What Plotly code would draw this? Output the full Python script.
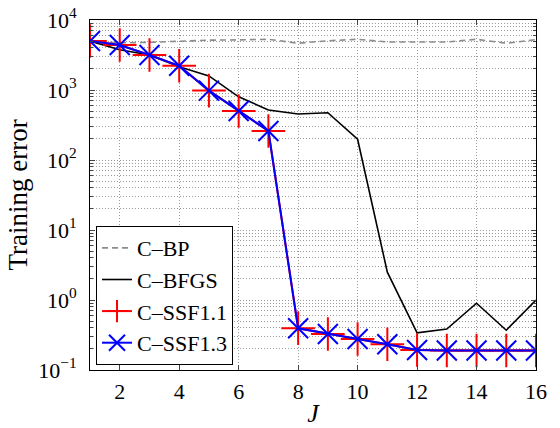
import plotly.graph_objects as go

J = list(range(1, 17))
c_bp = [5000, 4700, 4800, 5000, 5150, 5200, 5300, 4650, 5050, 5300, 4850, 4850, 4850, 5300, 4650, 5250]
c_bfgs = [5000, 3750, 3160, 2150, 1590, 800, 518, 454, 474, 198, 2.5, 0.34, 0.385, 0.9, 0.37, 1.0]
c_ssf11 = [5000, 4400, 3160, 2220, 980, 500, 260, 0.394, 0.327, 0.277, 0.233, 0.193, 0.19, 0.19, 0.19, 0.19]
c_ssf13 = [5000, 4400, 3160, 2220, 980, 500, 260, 0.394, 0.327, 0.277, 0.233, 0.193, 0.19, 0.19, 0.19, 0.19]

x_ticks = [2, 4, 6, 8, 10, 12, 14, 16]
y_ticks = [0.1, 1, 10, 100, 1000, 10000]
y_ticktext = ["10<sup>−1</sup>", "10<sup>0</sup>", "10<sup>1</sup>", "10<sup>2</sup>", "10<sup>3</sup>", "10<sup>4</sup>"]

FONT = "Liberation Serif"
GRID = "#9a9a9a"
GDASH = "1px,2px"

fig = go.Figure()
fig.add_trace(go.Scatter(x=J, y=c_bp, name="C\u2013BP", mode="lines",
                         line=dict(color="#8c8c8c", width=1.6, dash="6px,4px")))
fig.add_trace(go.Scatter(x=J, y=c_bfgs, name="C\u2013BFGS", mode="lines",
                         line=dict(color="black", width=1.6)))
fig.add_trace(go.Scatter(x=J, y=c_ssf11, name="C\u2013SSF1.1", mode="lines+markers",
                         line=dict(color="red", width=2),
                         marker=dict(symbol="cross-thin-open", size=24,
                                     line=dict(color="red", width=2))))
fig.add_trace(go.Scatter(x=J, y=c_ssf13, name="C\u2013SSF1.3", mode="lines+markers",
                         line=dict(color="blue", width=2),
                         marker=dict(symbol="x-thin-open", size=20,
                                     line=dict(color="blue", width=2))))

fig.update_layout(
    width=560, height=428,
    margin=dict(l=90, r=24, t=20, b=58),
    paper_bgcolor="white", plot_bgcolor="white",
    font=dict(family=FONT, size=22, color="black"),
    showlegend=True,
    legend=dict(x=0.0135, y=0.014, xanchor="left", yanchor="bottom",
                bgcolor="white", bordercolor="black", borderwidth=1,
                font=dict(family=FONT, size=22), tracegroupgap=0,
                itemwidth=30),
)
fig.update_xaxes(
    range=[1, 16], tickvals=x_ticks, ticks="inside", ticklen=5,
    showline=True, linecolor="black", linewidth=1, mirror="ticks",
    showgrid=True, gridcolor=GRID, griddash=GDASH, gridwidth=1,
    zeroline=False, tickfont=dict(family=FONT, size=22),
    ticklabelstandoff=2, automargin=False,
    title=dict(text="<i>J</i>", font=dict(family=FONT, size=26), standoff=2),
)
fig.update_yaxes(
    type="log", range=[-1, 4], tickvals=y_ticks, ticktext=y_ticktext,
    ticks="inside", ticklen=5,
    showline=True, linecolor="black", linewidth=1, mirror="ticks",
    showgrid=True, gridcolor=GRID, griddash=GDASH, gridwidth=1,
    zeroline=False, tickfont=dict(family=FONT, size=22),
    ticklabelstandoff=8, automargin=False,
    minor=dict(ticks="inside", ticklen=3, dtick="D1", showgrid=True,
               gridcolor=GRID, griddash=GDASH, gridwidth=1),
    title=dict(text="Training error", font=dict(family=FONT, size=27), standoff=2),
)

fig.write_html("out.html", config={"displayModeBar": False},
               post_script="document.body.style.margin='0';document.body.style.padding='0';")
